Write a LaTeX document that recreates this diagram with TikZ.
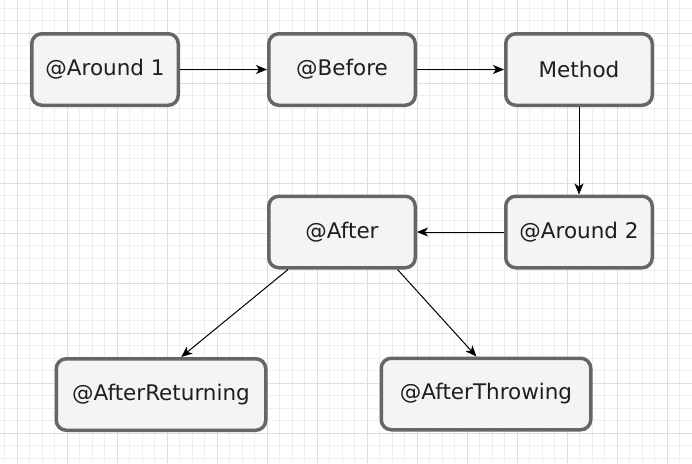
\documentclass[tikz,border=0pt]{standalone}
\usepackage{fontspec}
\setmainfont{DejaVu Sans}
\usetikzlibrary{arrows.meta,calc}
\definecolor{gridminor}{HTML}{EFEFEF}
\definecolor{gridmajor}{HTML}{DEDEDE}
\definecolor{boxfill}{HTML}{F4F4F4}
\definecolor{boxline}{HTML}{666666}
\definecolor{txt}{HTML}{1E1E1E}
\begin{document}
\begin{tikzpicture}[x=1pt,y=-1pt,
  box/.style={draw=boxline, fill=boxfill, line width=3.5pt, rounded corners=10pt,
    minimum width=146.5pt, minimum height=71.5pt, inner sep=0pt,
    font=\fontsize{21.5}{24}\selectfont, text=txt},
  widebox/.style={box, minimum width=209.5pt},
  conn/.style={-{Stealth[length=11pt,width=9pt,inset=3pt]}, line width=1pt, black}]
\useasboundingbox (0,0) rectangle (692,463);
\fill[white] (0,0) rectangle (692,463);
% grid
\foreach \i in {0,...,55} \draw[gridminor, line width=0.8pt] ({4.5+12.5*\i},0) -- ++(0,463);
\foreach \j in {0,...,36} \draw[gridminor, line width=0.8pt] (0,{8+12.5*\j}) -- ++(692,0);
\foreach \i in {0,...,13} \draw[gridmajor, line width=0.8pt] ({17+50*\i},0) -- ++(0,463);
\foreach \j in {0,...,8} \draw[gridmajor, line width=0.8pt] (0,{33+50*\j}) -- ++(692,0);
% nodes
\node[box] (a1) at (105,69.5) {@Around 1};
\node[box] (before) at (342,69.5) {@Before};
\node[box] (method) at (579,69.5) {Method};
\node[box] (after) at (342,232) {@After};
\node[box] (a2) at (579,232) {@Around 2};
\node[widebox] (ret) at (161,394.5) {@AfterReturning};
\node[widebox] (thr) at (486,394) {@AfterThrowing};
% connection points
\coordinate (afl) at ($(after.south west)!0.14!(after.south east)$);
\coordinate (afr) at ($(after.south west)!0.87!(after.south east)$);
\coordinate (retin) at ($(ret.north west)!0.595!(ret.north east)$);
\coordinate (thrin) at ($(thr.north west)!0.455!(thr.north east)$);
% connectors
\draw[conn] (a1.east) -- (before.west);
\draw[conn] (before.east) -- (method.west);
\draw[conn] (method.south) -- (a2.north);
\draw[conn] (a2.west) -- (after.east);
\draw[conn] (afl) -- (retin);
\draw[conn] (afr) -- (thrin);
\end{tikzpicture}
\end{document}
